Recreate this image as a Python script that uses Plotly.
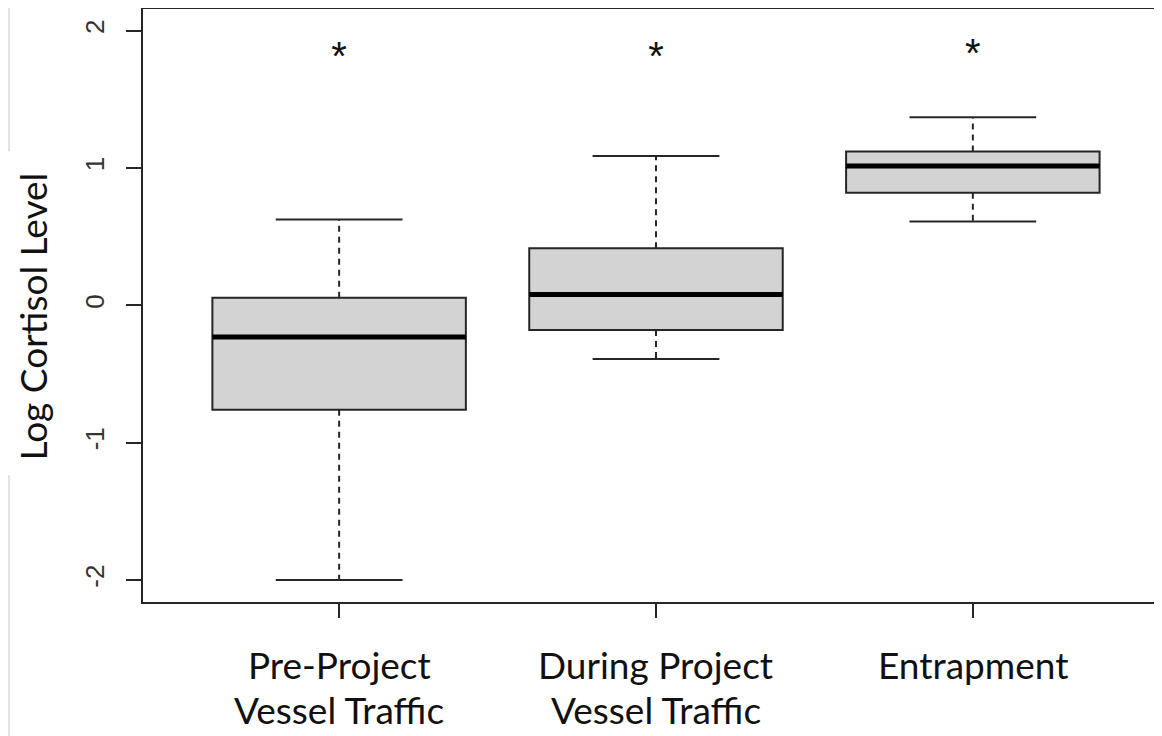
import plotly.graph_objects as go

# ---- data ----
line1 = ["Pre-Project", "During Project", "Entrapment"]
line2 = ["Vessel Traffic", "Vessel Traffic", ""]
lower = [-2.00, -0.39, 0.61]
q1 = [-0.76, -0.18, 0.82]
median = [-0.23, 0.08, 1.015]
q3 = [0.055, 0.415, 1.12]
upper = [0.625, 1.087, 1.37]
sig_y = [1.79, 1.79, 1.81]
sig_text = ["*", "*", "*"]
yticks = [-2, -1, 0, 1, 2]

xpos = list(range(len(line1)))
BOXW = 0.8
CAPW = 0.4
LINE = "#262626"
FONT = "Lato"

fig = go.Figure()

for i, x in enumerate(xpos):
    # box body
    fig.add_trace(go.Box(
        x=[x], q1=[q1[i]], median=[median[i]], q3=[q3[i]],
        lowerfence=[q1[i]], upperfence=[q3[i]],
        width=BOXW, whiskerwidth=0,
        fillcolor="#d3d3d3", line=dict(color=LINE, width=2),
        showlegend=False, hoverinfo="skip", boxpoints=False,
    ))
    # dashed whiskers
    fig.add_trace(go.Scatter(
        x=[x, x, None, x, x], y=[q3[i], upper[i], None, q1[i], lower[i]],
        mode="lines", line=dict(color=LINE, width=2, dash="6px,5px"),
        showlegend=False, hoverinfo="skip",
    ))
    # caps
    fig.add_trace(go.Scatter(
        x=[x - CAPW / 2, x + CAPW / 2, None, x - CAPW / 2, x + CAPW / 2],
        y=[upper[i], upper[i], None, lower[i], lower[i]],
        mode="lines", line=dict(color=LINE, width=2),
        showlegend=False, hoverinfo="skip",
    ))
    # thick median
    fig.add_trace(go.Scatter(
        x=[x - BOXW / 2, x + BOXW / 2], y=[median[i], median[i]],
        mode="lines", line=dict(color="#000000", width=5),
        showlegend=False, hoverinfo="skip",
    ))

# significance asterisks
fig.add_trace(go.Scatter(
    x=xpos, y=sig_y, text=sig_text, mode="text",
    textfont=dict(family="Liberation Sans", size=40, color="#111"),
    textposition="middle center", showlegend=False, hoverinfo="skip",
))

# category labels (two lines)
for i, x in enumerate(xpos):
    fig.add_annotation(x=x, y=-0.1046, xref="x", yref="paper", text=line1[i],
                       showarrow=False, yanchor="middle", xanchor="center",
                       font=dict(family=FONT, size=37, color="#111"))
    if line2[i]:
        fig.add_annotation(x=x, y=-0.182, xref="x", yref="paper", text=line2[i],
                           showarrow=False, yanchor="middle", xanchor="center",
                           font=dict(family=FONT, size=37, color="#111"))

fig.add_annotation(x=-0.108, y=0.4815, xref="paper", yref="paper",
                   text="Log Cortisol Level", textangle=-90, showarrow=False,
                   xanchor="center", yanchor="middle",
                   font=dict(family=FONT, size=37, color="#111"))

# screenshot frame artifacts at left edge
for (x0, y0, x1, y1) in [(-0.1315, 1.02, -0.1315, 0.761), (-0.1315, 0.761, -0.14, 0.761),
                         (-0.14, 0.2125, -0.1315, 0.2125), (-0.1315, 0.2125, -0.1315, -0.24)]:
    fig.add_shape(type="line", xref="paper", yref="paper", x0=x0, y0=y0, x1=x1, y1=y1,
                  line=dict(color="#c8c8c8", width=1))

fig.update_layout(
    width=1154, height=728,
    margin=dict(l=135, r=0, t=1, b=134),
    plot_bgcolor="white", paper_bgcolor="white",
    xaxis=dict(range=[-0.619, 2.597], tickvals=xpos, ticktext=["", "", ""],
               ticks="outside", ticklen=14, tickwidth=2, tickcolor=LINE,
               showline=True, linecolor=LINE, linewidth=2, mirror=True,
               showgrid=False, zeroline=False),
    yaxis=dict(range=[-2.16, 2.158], tickvals=yticks, ticktext=[str(v) for v in yticks],
               tickangle=-90, ticks="outside", ticklen=15, tickwidth=2, tickcolor=LINE,
               ticklabelstandoff=12,
               tickfont=dict(family="Liberation Sans", size=26, color="#333"),
               showline=True, linecolor=LINE, linewidth=2,
               showgrid=False, zeroline=False),
)

fig.write_html("out.html")
